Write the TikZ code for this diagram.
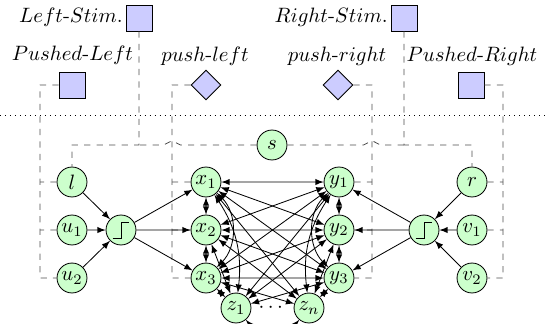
\documentclass[tikz,border=0pt]{standalone}
\usepackage{amsmath}
\usetikzlibrary{arrows,shapes.geometric,calc}

\begin{document}
\begin{tikzpicture}[scale=0.169, >=latex]
	\tikzstyle{every node}+=[inner sep=0pt]
	\tikzstyle{unit}=[circle, draw=black, fill=green!20, minimum size=14.4pt]
	\tikzstyle{stim}=[rectangle, draw=black, fill=blue!20, minimum size=12.5pt]
	\tikzstyle{act}=[diamond, draw=black, fill=blue!20, minimum size=14.4pt]
	\tikzstyle{wire}=[dashed, black!70]
	\tikzstyle{syn}=[<->, black]
	\useasboundingbox (0,0) rectangle (54.6,-32.3);

	% stimuli and actions
	\node [stim] (LS) at (13.9,-1.8) {};
	\node [anchor=east] (LS-text) at (12.3,-1.75) {$Left\text{-}Stim.$};
	\node [stim] (RS) at (40.4,-1.8) {};
	\node [anchor=east] (RS-text) at (38.8,-1.75) {$Right\text{-}Stim.$};
	\node [stim] (PL) at (7.2,-8.5) {};
	\node (PL-text) at (7.25,-5.5) {$Pushed\text{-}Left$};
	\node [act] (PLD) at (20.6,-8.5) {};
	\node (PLD-text) at (20.5,-5.6) {$push\text{-}left$};
	\node [act] (PRD) at (33.8,-8.5) {};
	\node (PRD-text) at (33.7,-5.6) {$push\text{-}right$};
	\node [stim] (PR) at (47.1,-8.5) {};
	\node (PR-text) at (47.2,-5.6) {$Pushed\text{-}Right$};
	\coordinate (sep-w) at (0,-11.5);
	\coordinate (sep-e) at (54.6,-11.5);
	\draw [dotted] (sep-w) -- (sep-e);

	% units
	\node [unit] (s) at (27.2,-14.5) {$s$};
	\node [unit] (l) at (7.2,-18.2) {$l$};
	\node [unit] (u1) at (7.2,-23.0) {$u_1$};
	\node [unit] (u2) at (7.2,-27.8) {$u_2$};
	\node [unit] (stepL) at (12.1,-23.0) {};
	\node [unit] (x1) at (20.6,-18.2) {$x_1$};
	\node [unit] (x2) at (20.6,-23.0) {$x_2$};
	\node [unit] (x3) at (20.6,-27.8) {$x_3$};
	\node [unit] (y1) at (33.9,-18.2) {$y_1$};
	\node [unit] (y2) at (33.9,-23.0) {$y_2$};
	\node [unit] (y3) at (33.9,-27.8) {$y_3$};
	\node [unit] (z1) at (23.6,-30.8) {$z_1$};
	\node [unit] (zn) at (30.9,-30.8) {$z_n$};
	\node (dots) at (27.25,-30.8) {$\cdots$};
	\node [unit] (stepR) at (42.4,-23.0) {};
	\node [unit] (r) at (47.2,-18.2) {$r$};
	\node [unit] (v1) at (47.2,-23.0) {$v_1$};
	\node [unit] (v2) at (47.2,-27.8) {$v_2$};

	% threshold symbols
	\draw (stepL.center) ++(-0.83,-0.83) -- ++(0.83,0) -- ++(0,1.6) -- ++(0.8,0);
	\draw (stepR.center) ++(-0.83,-0.83) -- ++(0.83,0) -- ++(0,1.6) -- ++(0.8,0);

	% dashed wiring
	\coordinate (pl-foot) at (4.0,-27.8);
	\draw [wire] (PL) -| (pl-foot) -- (u2);
	\draw [wire] (l) -- (l -| pl-foot);
	\draw [wire] (u1) -- (u1 -| pl-foot);
	\coordinate (pa-foot) at (17.2,-27.8);
	\draw [wire] (PLD) -| (pa-foot) -- (x3);
	\draw [wire] (x1) -- (x1 -| pa-foot);
	\draw [wire] (x2) -- (x2 -| pa-foot);
	\coordinate (pb-foot) at (37.2,-27.8);
	\draw [wire] (PRD) -| (pb-foot) -- (y3);
	\draw [wire] (y1) -- (y1 -| pb-foot);
	\draw [wire] (y2) -- (y2 -| pb-foot);
	\coordinate (pr-foot) at (50.3,-27.8);
	\draw [wire] (PR) -| (pr-foot) -- (v2);
	\draw [wire] (r) -- (r -| pr-foot);
	\draw [wire] (v1) -- (v1 -| pr-foot);
	\draw [wire] (LS) -- (LS |- s) -| (l);
	\draw [wire] (RS) -- (RS |- s) -| (r);
	\coordinate (hop-l) at (17.2,-14.5);
	\coordinate (hop-r) at (37.2,-14.5);
	\draw [wire] (s) -- ($(hop-l)+(0.85,0)$) -- ($(hop-l)+(0,0.43)$) -- ($(hop-l)-(0.85,0)$) -- (LS |- s);
	\draw [wire] (s) -- ($(hop-r)-(0.85,0)$) -- ($(hop-r)+(0,0.43)$) -- ($(hop-r)+(0.85,0)$) -- (RS |- s);

	% inputs to the threshold units
	\foreach \n in {l,u1,u2} \draw [->] (\n) -- (stepL);
	\foreach \n in {x1,x2,x3} \draw [->] (stepL) -- (\n);
	\foreach \n in {r,v1,v2} \draw [->] (\n) -- (stepR);
	\foreach \n in {y1,y2,y3} \draw [->] (stepR) -- (\n);

	% recurrent layer
	\foreach \a/\b in {x1/x2, x2/x3, x1/y1, x1/y2, x1/y3, x1/zn, x2/y1, x2/y2, x2/y3, x2/z1, x2/zn,
		x3/y1, x3/y2, x3/y3, x3/z1, x3/zn, y1/y2, y2/y3, y1/z1, y2/z1, y2/zn, y3/z1, y3/zn}
		\draw [syn] (\a) -- (\b);
	\draw [syn] (x1) to [bend left=45] (x3);
	\draw [syn] (y1) to [bend right=45] (y3);
	\draw [syn] (x1) to [bend left=20] (z1);
	\draw [syn] (y1) to [bend right=20] (zn);
	\draw [syn] (z1) to [bend right=50] (zn);
\end{tikzpicture}
\end{document}
